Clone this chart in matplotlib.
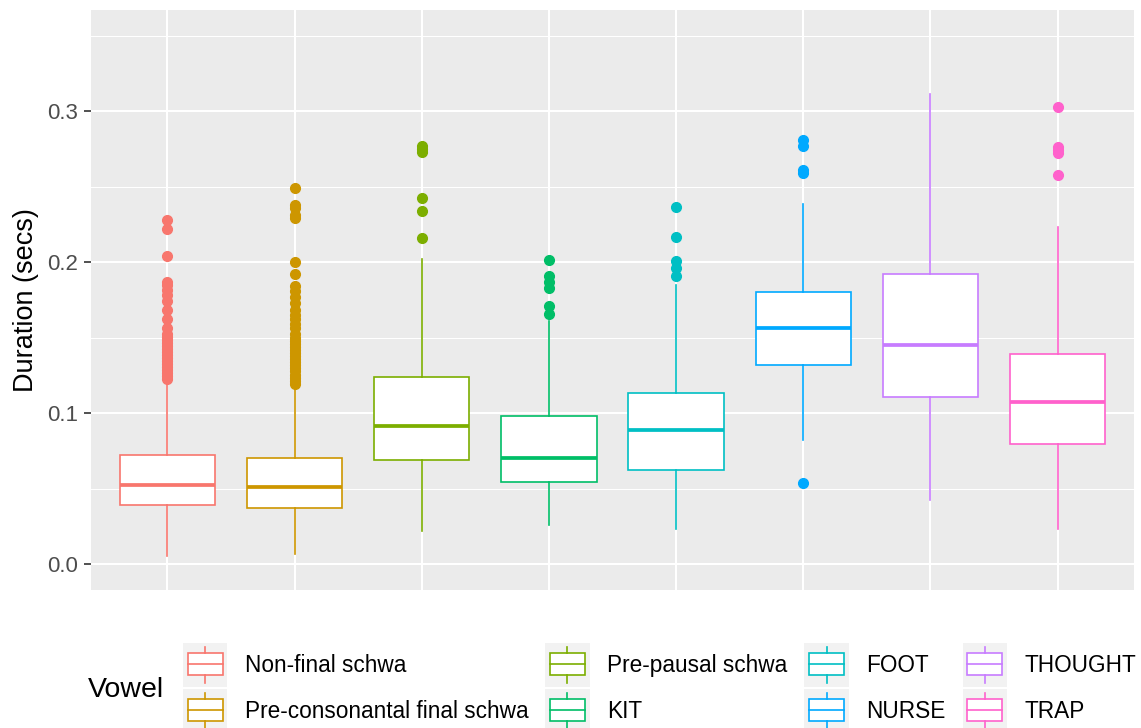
import matplotlib
matplotlib.use("Agg")
import matplotlib.pyplot as plt
from matplotlib.patches import Rectangle, Patch
from matplotlib.lines import Line2D
from matplotlib.legend_handler import HandlerBase
from matplotlib.ticker import MultipleLocator

plt.rcParams['font.family'] = ['Liberation Sans', 'DejaVu Sans']

# Vowel categories and their ggplot hue colours
vowels = ["Non-final schwa", "Pre-consonantal final schwa", "Pre-pausal schwa",
          "KIT", "FOOT", "NURSE", "THOUGHT", "TRAP"]
colors = ["#F8766D", "#CD9600", "#7CAE00", "#00BE67",
          "#00BFC4", "#00A9FF", "#C77CFF", "#FF61CC"]

# Box summary statistics (seconds)
whisker_low = [0.0053, 0.0066, 0.0218, 0.0261, 0.0231, 0.0819, 0.0421, 0.0231]
q1          = [0.0393, 0.0373, 0.0692, 0.0540, 0.0624, 0.1319, 0.1106, 0.0794]
median      = [0.0525, 0.0510, 0.0913, 0.0705, 0.0885, 0.1560, 0.1448, 0.1073]
q3          = [0.0723, 0.0700, 0.1238, 0.0979, 0.1131, 0.1800, 0.1922, 0.1392]
whisker_high = [0.1200, 0.1170, 0.2019, 0.1610, 0.1846, 0.2384, 0.3114, 0.2232]

# Outlying durations per vowel
outliers = [
    [0.1225, 0.1245, 0.1265, 0.1285, 0.1305, 0.1325, 0.1345, 0.1365, 0.1385,
     0.1405, 0.1425, 0.1445, 0.1465, 0.1485, 0.1505, 0.1525, 0.1560, 0.1625,
     0.1680, 0.1745, 0.1780, 0.1815, 0.1845, 0.1870, 0.2037, 0.2220, 0.2280],
    [0.1195, 0.1215, 0.1235, 0.1255, 0.1275, 0.1295, 0.1315, 0.1335, 0.1355,
     0.1375, 0.1395, 0.1415, 0.1435, 0.1455, 0.1475, 0.1500, 0.1525, 0.1560,
     0.1590, 0.1620, 0.1650, 0.1680, 0.1730, 0.1770, 0.1810, 0.1840, 0.1920,
     0.2000, 0.2290, 0.2310, 0.2360, 0.2380, 0.2490],
    [0.2160, 0.2340, 0.2425, 0.2730, 0.2750, 0.2770],
    [0.1656, 0.1707, 0.1830, 0.1870, 0.1910, 0.2016],
    [0.1905, 0.1960, 0.2004, 0.2168, 0.2366],
    [0.0535, 0.2590, 0.2610, 0.2770, 0.2810],
    [],
    [0.2577, 0.2720, 0.2740, 0.2759, 0.3028],
]

y_ticks = [0.0, 0.1, 0.2, 0.3]
y_tick_labels = ["0.0", "0.1", "0.2", "0.3"]

W, H, DPI = 1141, 728, 100
fig = plt.figure(figsize=(W / DPI, H / DPI), dpi=DPI)
ax = fig.add_axes([91 / W, 1 - 590 / H, (1134 - 91) / W, (590 - 10) / H])

ax.set_facecolor("#EBEBEB")
for s in ax.spines.values():
    s.set_visible(False)

positions = list(range(1, len(vowels) + 1))
for i in range(len(vowels)):
    c = colors[i]
    st = dict(med=median[i], q1=q1[i], q3=q3[i],
              whislo=whisker_low[i], whishi=whisker_high[i],
              fliers=outliers[i])
    ax.bxp([st], positions=[positions[i]], widths=0.75, patch_artist=True,
           showcaps=False,
           boxprops=dict(facecolor="white", edgecolor=c, linewidth=1.2),
           medianprops=dict(color=c, linewidth=2.7, solid_capstyle="butt"),
           whiskerprops=dict(color=c, linewidth=1.2),
           flierprops=dict(marker="o", markerfacecolor=c, markeredgecolor=c,
                           markersize=7, linestyle="none"),
           zorder=3)

ax.set_xlim(0.4, len(vowels) + 0.6)
ax.set_ylim(-0.0172, 0.3669)
ax.set_yticks(y_ticks)
ax.set_yticklabels(y_tick_labels)
ax.yaxis.set_minor_locator(MultipleLocator(0.05))
ax.set_xticks(positions)
ax.set_xticklabels([])
ax.tick_params(axis="x", length=0)
ax.tick_params(axis="y", which="major", length=5.2, width=1.2, color="#333333",
               labelsize=16, labelcolor="#4D4D4D", pad=4)
ax.tick_params(axis="y", which="minor", length=0)

ax.grid(True, which="major", color="white", linewidth=1.5, zorder=0)
ax.grid(True, which="minor", axis="y", color="white", linewidth=0.75, zorder=0)
ax.set_axisbelow(True)

ax.set_ylabel("Duration (secs)", fontsize=19.5, color="black", labelpad=6)


class BoxKeyHandler(HandlerBase):
    def create_artists(self, legend, orig_handle, xdescent, ydescent,
                       width, height, fontsize, trans):
        c = orig_handle.get_edgecolor()
        x0, y0 = -xdescent, -ydescent
        bg = Rectangle((x0, y0), width, height, facecolor="#F2F2F2",
                       edgecolor="none", transform=trans)
        bx = Rectangle((x0 + 0.11 * width, y0 + 0.27 * height), 0.79 * width,
                       0.5 * height, facecolor="white", edgecolor=c,
                       linewidth=1.2, transform=trans)
        cx = x0 + width / 2
        cy = y0 + 0.52 * height
        med = Line2D([x0 + 0.11 * width, x0 + 0.90 * width], [cy, cy], color=c,
                     linewidth=1.2, transform=trans)
        wl = Line2D([cx, cx], [y0 + 0.09 * height, y0 + 0.27 * height], color=c,
                    linewidth=1.2, transform=trans)
        wh = Line2D([cx, cx], [y0 + 0.77 * height, y0 + 0.91 * height], color=c,
                    linewidth=1.2, transform=trans)
        return [bg, bx, med, wl, wh]


handles = [Patch(edgecolor=c, facecolor="white") for c in colors]
fs = 16.3
leg = fig.legend(handles, vowels, ncol=4, loc="upper left",
                 bbox_to_anchor=(183 / W, 1 - 643 / H),
                 frameon=False, fontsize=fs,
                 handler_map={Patch: BoxKeyHandler()},
                 handlelength=1.95, handleheight=2.62, handletextpad=0.78,
                 columnspacing=0.75, labelspacing=0.09, borderpad=0,
                 borderaxespad=0)

fig.text(88 / W, 1 - 690 / H, "Vowel", fontsize=20.5, ha="left", va="center")

fig.savefig("out.png", dpi=DPI)
